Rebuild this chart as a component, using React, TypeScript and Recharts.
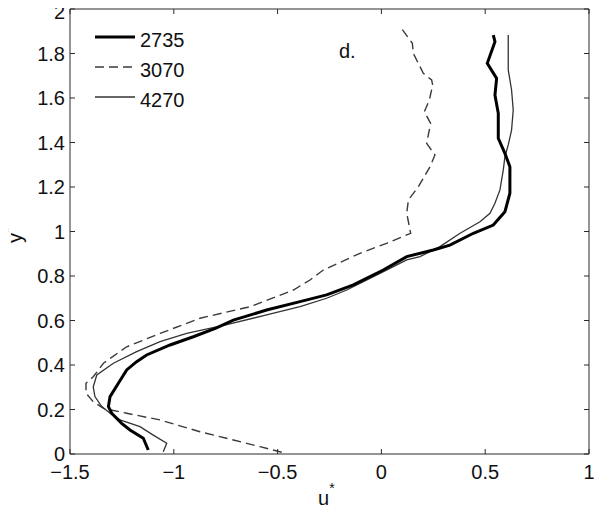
import { LineChart, Line, XAxis, YAxis } from 'recharts'

// profile 2735 (thick), read from bottom to top
const u2735 = [-1.123, -1.147, -1.211, -1.251, -1.299, -1.315, -1.307, -1.267, -1.227, -1.179, -1.131, -1.018, -0.906, -0.8, -0.713, -0.553, -0.392, -0.264, -0.135, 0.009, 0.122, 0.25, 0.33, 0.443, 0.539, 0.595, 0.619, 0.619, 0.595, 0.563, 0.563, 0.547, 0.555, 0.51, 0.547, 0.539]
const y2735 = [0.018, 0.071, 0.108, 0.138, 0.183, 0.213, 0.258, 0.318, 0.378, 0.415, 0.445, 0.49, 0.527, 0.565, 0.602, 0.647, 0.685, 0.715, 0.76, 0.827, 0.887, 0.917, 0.939, 0.992, 1.029, 1.089, 1.172, 1.291, 1.351, 1.419, 1.531, 1.613, 1.688, 1.756, 1.853, 1.883]

// profile 3070 (dashed)
const u3070 = [-0.48, -0.585, -0.713, -0.874, -1.066, -1.227, -1.339, -1.388, -1.423, -1.423, -1.388, -1.339, -1.227, -1.066, -0.874, -0.633, -0.424, -0.344, -0.28, -0.103, 0.025, 0.141, 0.122, 0.13, 0.178, 0.234, 0.258, 0.218, 0.237, 0.207, 0.231, 0.247, 0.242, 0.202, 0.154, 0.149, 0.093]
const y3070 = [0.008, 0.033, 0.063, 0.1, 0.153, 0.183, 0.205, 0.235, 0.273, 0.318, 0.347, 0.408, 0.482, 0.542, 0.61, 0.662, 0.737, 0.782, 0.827, 0.902, 0.947, 0.992, 1.082, 1.142, 1.201, 1.291, 1.344, 1.396, 1.486, 1.539, 1.591, 1.658, 1.681, 1.711, 1.8, 1.846, 1.918]

// profile 4270 (thin)
const u4270 = [-1.051, -1.034, -1.099, -1.163, -1.259, -1.307, -1.347, -1.38, -1.388, -1.371, -1.291, -1.179, -1.066, -0.938, -0.75, -0.553, -0.392, -0.264, -0.167, -0.007, 0.122, 0.186, 0.282, 0.379, 0.475, 0.523, 0.547, 0.571, 0.587, 0.595, 0.611, 0.627, 0.635, 0.627, 0.611, 0.611]
const y4270 = [0.01, 0.048, 0.085, 0.123, 0.153, 0.183, 0.213, 0.258, 0.302, 0.355, 0.408, 0.46, 0.505, 0.542, 0.58, 0.625, 0.662, 0.7, 0.737, 0.812, 0.872, 0.887, 0.932, 0.992, 1.044, 1.082, 1.127, 1.187, 1.276, 1.336, 1.389, 1.456, 1.546, 1.636, 1.726, 1.883]

const xTicks = [-1.5, -1, -0.5, 0, 0.5, 1]
const yTicks = [0, 0.2, 0.4, 0.6, 0.8, 1, 1.2, 1.4, 1.6, 1.8, 2]

const toPoints = (u: number[], y: number[]) => u.map((v, i) => ({ u: v, y: y[i] }))

const font = 'Liberation Sans, Arial, Helvetica, sans-serif'
const axisColor = '#2a2a2a'

const fmt = (v: number) => String(v).replace('-', '\u2212')

export default function App() {
  const tickStyle = { fill: '#111', fontSize: 20, fontFamily: font }
  return (
    <div style={{ position: 'relative', width: 602, height: 514, margin: -8, background: '#fff' }}>
      <LineChart width={602} height={514} margin={{ top: 8, right: 12, left: 10, bottom: 30 }}>
        <XAxis xAxisId="b" type="number" dataKey="u" domain={[-1.5, 1]} ticks={xTicks} allowDataOverflow
          tickFormatter={fmt} tickSize={-5} tickMargin={16} height={30} stroke={axisColor} tick={tickStyle} />
        <XAxis xAxisId="t" orientation="top" type="number" dataKey="u" domain={[-1.5, 1]} ticks={xTicks} allowDataOverflow
          tickFormatter={() => ''} tickSize={-5} height={1} stroke={axisColor} />
        <YAxis yAxisId="l" type="number" dataKey="y" domain={[0, 2]} ticks={yTicks} allowDataOverflow
          tickFormatter={fmt} tickSize={-5} tickMargin={10} width={60} stroke={axisColor} tick={tickStyle} />
        <YAxis yAxisId="r" orientation="right" type="number" dataKey="y" domain={[0, 2]} ticks={yTicks} allowDataOverflow
          tickFormatter={() => ''} tickSize={-5} width={1} stroke={axisColor} />
        <Line xAxisId="b" yAxisId="l" data={toPoints(u3070, y3070)} dataKey="y" stroke="#3a3a3a" strokeWidth={1.4} strokeDasharray="9 5" dot={false} activeDot={false} isAnimationActive={false} />
        <Line xAxisId="b" yAxisId="l" data={toPoints(u4270, y4270)} dataKey="y" stroke="#333" strokeWidth={1.3} dot={false} activeDot={false} isAnimationActive={false} />
        <Line xAxisId="b" yAxisId="l" data={toPoints(u2735, y2735)} dataKey="y" stroke="#000" strokeWidth={3} dot={false} activeDot={false} isAnimationActive={false} />
      </LineChart>
      <svg width={602} height={514} style={{ position: 'absolute', left: 0, top: 0, pointerEvents: 'none' }} fontFamily={font} fill="#111">
        <line x1={95} x2={135} y1={37} y2={37} stroke="#000" strokeWidth={3} />
        <line x1={95} x2={135} y1={67} y2={67} stroke="#3a3a3a" strokeWidth={1.4} strokeDasharray="9 5" />
        <line x1={95} x2={135} y1={97} y2={97} stroke="#333" strokeWidth={1.3} />
        <text x={140} y={47} fontSize={20}>2735</text>
        <text x={140} y={77} fontSize={20}>3070</text>
        <text x={140} y={107} fontSize={20}>4270</text>
        <text x={339} y={58} fontSize={20}>d.</text>
        <text x={318} y={505} fontSize={20}>u<tspan fontSize={14} dy={-12}>*</tspan></text>
        <text transform="translate(22,243) rotate(-90)" fontSize={20}>y<tspan fontSize={14} dy={-9}>*</tspan></text>
      </svg>
    </div>
  )
}
